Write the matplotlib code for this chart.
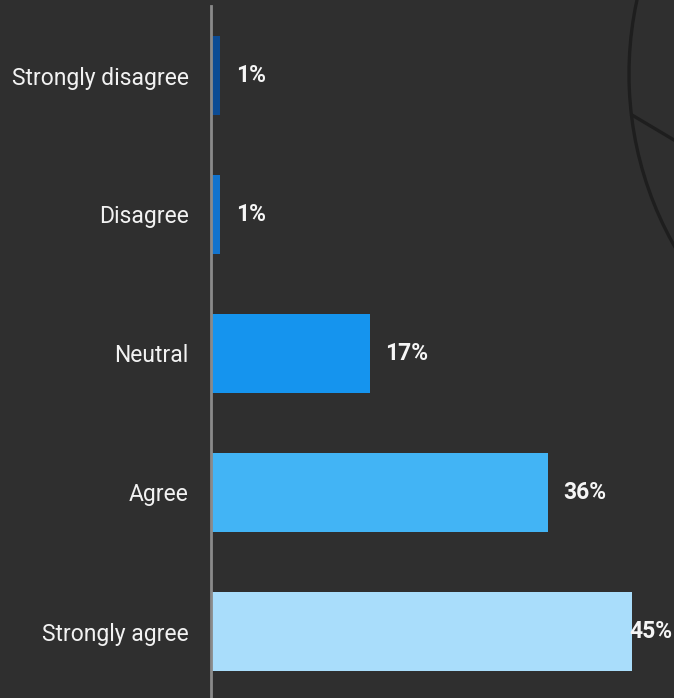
import numpy as np
import matplotlib
matplotlib.use('Agg')
import matplotlib.pyplot as plt
from matplotlib.patches import Arc
from matplotlib.lines import Line2D

# data
categories = ['Strongly disagree', 'Disagree', 'Neutral', 'Agree', 'Strongly agree']
values = [1, 1, 17, 36, 45]
bar_colors = ['#0b4b94', '#1173cd', '#1594ee', '#42b4f5', '#a9ddfb']

plt.rcParams['font.family'] = ['Roboto', 'DejaVu Sans']
bg = '#2f2f2f'

W, H = 674, 698
fig = plt.figure(figsize=(W / 100, H / 100), dpi=100, facecolor=bg)

# decorative arc in the top-right corner (background drawing)
arc = Arc((978 / W, 1 - 74 / H), 2 * 349 / W, 2 * 349 / H, theta1=145, theta2=220,
          transform=fig.transFigure, color='#1e1e1e', lw=2.4, zorder=0)
fig.patches.append(arc)
fig.lines.append(Line2D([632 / W, 1.0], [1 - 115 / H, 1 - 140 / H],
                        transform=fig.transFigure, color='#1e1e1e', lw=2.4, zorder=0))

ax = fig.add_axes([211 / W, 0, 1 - 211 / W, 1 - 6 / H])
ax.set_facecolor('none')

y = np.arange(len(categories))
ax.barh(y, values, height=0.57, color=bar_colors, zorder=2)

ax.set_xlim(0, 463 / 9.36)
ax.set_ylim(-0.5 + 692 / 139, -0.5)

for s in ['top', 'right', 'bottom']:
    ax.spines[s].set_visible(False)
ax.spines['left'].set_color('#8a8a8a')
ax.spines['left'].set_linewidth(2.0)
ax.spines['left'].set_zorder(3)

ax.set_xticks([])
ax.set_yticks(y)
ax.set_yticklabels(categories, fontsize=16.5, color='#f2f2f2')
ax.tick_params(axis='y', length=0, pad=16)

texts = []
for i, v in enumerate(values):
    t = ax.annotate(f'{v}%', xy=(v, i), xytext=(11, 0), textcoords='offset points',
                    ha='left', va='center', fontsize=16.5, fontweight='bold',
                    color='#f5f5f5', zorder=4)
    texts.append(t)

# keep labels inside the figure
fig.canvas.draw()
for t, (i, v) in zip(texts, enumerate(values)):
    bb = t.get_window_extent()
    if bb.x1 > W - 1:
        t.remove()
        ax.text(0.997, i, f'{v}%', transform=ax.get_yaxis_transform(),
                ha='right', va='center', fontsize=16.5, fontweight='bold',
                color='#f5f5f5', zorder=4)

fig.savefig('out.png', dpi=100, facecolor=bg)
